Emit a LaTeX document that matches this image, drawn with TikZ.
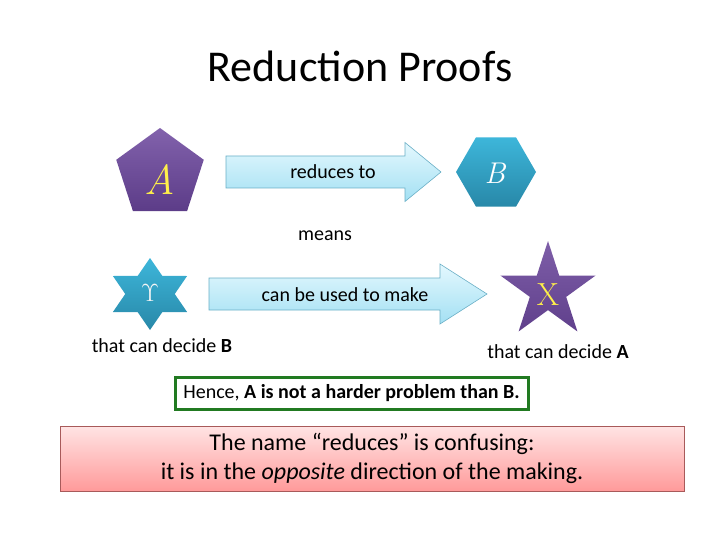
\documentclass[tikz,border=0pt]{standalone}
\usepackage{fontspec}
\setmainfont{Carlito}
\newfontfamily\lmr{Latin Modern Roman}
\usetikzlibrary{shapes.geometric}
\definecolor{purpTop}{HTML}{8262AC}
\definecolor{purpBot}{HTML}{5C3C88}
\definecolor{tealTop}{HTML}{3DB6DA}
\definecolor{tealBot}{HTML}{2888A8}
\definecolor{arrTop}{HTML}{E4F8FE}
\definecolor{arrBot}{HTML}{A3E0F3}
\definecolor{arrLine}{HTML}{6AAFC6}
\definecolor{boxGreen}{HTML}{217A21}
\definecolor{pinkTop}{HTML}{FFE4E4}
\definecolor{pinkBot}{HTML}{FF9A9A}
\definecolor{pinkLine}{HTML}{A85A5A}
\definecolor{symYellow}{HTML}{FFF04A}
\tikzset{
  purpshape/.style={top color=purpTop, bottom color=purpBot, draw=none, inner sep=0pt},
  tealshape/.style={top color=tealTop, bottom color=tealBot, draw=none, inner sep=0pt},
  bigarrow/.style={top color=arrTop, bottom color=arrBot, draw=arrLine, line width=0.6pt},
  lbl/.style={inner sep=0pt, text=black, font=\fontsize{20}{24}\selectfont},
}
\begin{document}
\begin{tikzpicture}[x=1pt,y=-1pt]
\useasboundingbox (0,0) rectangle (720,540);
% title
\node[inner sep=0pt, font=\fontsize{44}{52}\selectfont] (title) at (360,66) {Reduction Proofs};
% row 1
\node[purpshape, regular polygon, regular polygon sides=5, minimum size=92pt] (A) at (160,174) {};
\node[inner sep=0pt, text=symYellow, font=\lmr\itshape\fontsize{42}{46}\selectfont] (Alab) at (160,180) {A};
\node[tealshape, regular polygon, regular polygon sides=6, minimum size=80pt] (B) at (496,172) {};
\node[inner sep=0pt, text=white, font=\lmr\itshape\fontsize{30}{34}\selectfont] (Blab) at (495,173) {B};
\coordinate (r1tip) at (441,172);
\path[bigarrow] (226,156) -- (405,156) -- (405,142.5) -- (r1tip) -- (405,201.5) -- (405,188) -- (226,188) -- cycle;
\node[lbl] (reduces) at (333,172) {reduces to};
\node[lbl] (means) at (325,236) {means};
% row 2
\begin{scope}[shift={(150,294)}, xscale=1.19]
\path[tealshape] (90:36) -- (120:20.8) -- (150:36) -- (180:20.8) -- (210:36) -- (240:20.8)
  -- (270:36) -- (300:20.8) -- (330:36) -- (0:20.8) -- (30:36) -- (60:20.8) -- cycle;
\end{scope}
\node[inner sep=0pt, text=white!92!gray, font=\fontsize{26}{30}\selectfont] (Ylab) at (150,293) {$\Upsilon$};
\node[lbl] (decB) at (162,346) {that can decide \textbf{B}};
\coordinate (r2tip) at (487,294);
\path[bigarrow] (209,278) -- (440,278) -- (440,264) -- (r2tip) -- (440,324) -- (440,310) -- (209,310) -- cycle;
\node[lbl] (make) at (345,295) {can be used to make};
\node[star, star points=5, star point ratio=2.618, minimum size=100pt, inner sep=0pt,
      top color=purpTop!90!purpBot, bottom color=purpBot!90!purpTop] (X) at (548,291) {};
\node[inner sep=0pt, text=symYellow, font=\lmr\fontsize{32}{36}\selectfont] (Xlab) at (548,295) {X};
\node[lbl] (decA) at (558,352) {that can decide \textbf{A}};
% conclusion
\node[draw=boxGreen, line width=3pt, minimum width=353pt, minimum height=32pt, inner sep=0pt,
      font=\fontsize{20}{24}\selectfont] (hence) at (351.5,393) {Hence, \textbf{A is not a harder problem than B.}};
\node[draw=pinkLine, line width=0.8pt, top color=pinkTop, bottom color=pinkBot,
      minimum width=624pt, minimum height=65pt, inner sep=0pt, align=center,
      font=\fontsize{24}{29}\selectfont] (note) at (372,458.5)
  {The name “reduces” is confusing:\\it is in the \emph{opposite} direction of the making.};
\end{tikzpicture}
\end{document}
